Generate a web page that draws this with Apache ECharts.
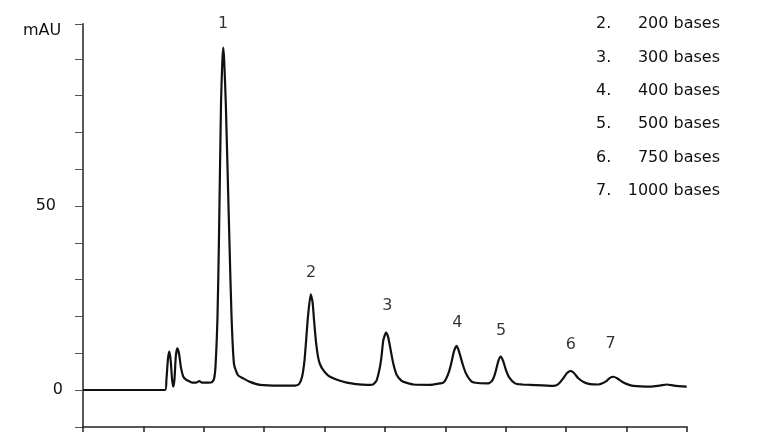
<!DOCTYPE html>
<html>
<head>
<meta charset="utf-8">
<script src="https://cdn.jsdelivr.net/npm/echarts@6/dist/echarts.min.js"></script>
<style>
html,body{margin:0;padding:0;background:#fff;}
#chart{width:768px;height:432px;}
</style>
</head>
<body>
<div id="chart"></div>
<script>
// Retention time (min) and absorbance (mAU)
const timeMin = [0,1.358,1.382,1.407,1.429,1.452,1.474,1.495,1.515,1.536,1.561,1.589,1.623,1.661,1.705,1.743,1.805,1.871,1.925,1.970,2.036,2.131,2.169,2.194,2.227,2.252,2.285,2.306,2.323,2.339,2.364,2.401,2.425,2.459,2.500,2.566,2.649,2.765,2.930,3.262,3.510,3.576,3.626,3.667,3.692,3.725,3.770,3.800,3.825,3.858,3.891,3.924,3.978,4.056,4.144,4.255,4.366,4.520,4.697,4.801,4.863,4.917,4.945,4.972,5.017,5.050,5.083,5.137,5.194,5.276,5.348,5.469,5.745,5.911,5.965,6.010,6.060,6.093,6.142,6.187,6.225,6.286,6.341,6.435,6.540,6.710,6.772,6.813,6.838,6.879,6.916,6.954,7.003,7.053,7.152,7.268,7.401,7.786,7.864,7.952,8.013,8.075,8.129,8.200,8.295,8.394,8.531,8.609,8.670,8.725,8.780,8.841,8.919,9.007,9.111,9.388,9.553,9.664,9.785,9.995];
const absorb = [0,0,3,8.5,10.4,8,3,0.9,3,9,11.3,10,6,3.6,2.8,2.5,2.0,2.0,2.4,2.0,2.0,2.1,3,6.5,20,42,78,89,93,89,78,55,40,20,7,4,3.2,2.2,1.4,1.2,1.2,1.6,3.5,8,13,20,26,24,19,13,9,7,5.4,4,3.2,2.5,2.0,1.6,1.4,1.5,2.7,6.3,9.5,13.5,15.6,14.5,11.8,7.2,4.1,2.5,2.0,1.5,1.4,1.8,2.0,3,5,7,10.5,12,10.5,7,4.5,2.3,1.9,1.8,2.5,4,5.4,8,9.1,8,5.4,3.5,1.8,1.5,1.4,1.1,1.5,3.2,4.6,5.2,4.6,3.2,2.1,1.6,1.5,1.9,2.5,3.3,3.6,3.2,2.3,1.6,1.1,0.9,1.2,1.5,1.2,0.9];

// Peak annotations
const peakLabels = ['1','2','3','4','5','6','7'];
const peakLabelTime = [2.318,3.775,5.038,6.197,6.921,8.075,8.737];
const peakLabelValue = [99.5,31.9,22.8,18.3,16.0,12.2,12.5];

// Key text (line 1 is cut off in the reference)
const keyNums = ['2.','3.','4.','5.','6.','7.'];
const keyTexts = ['200 bases','300 bases','400 bases','500 bases','750 bases','1000 bases'];

const yLabeled = [0, 50];
const yUnit = 'mAU';

const FONT = 'DejaVu Sans';
const chart = echarts.init(document.getElementById('chart'));

const graphics = [{
  type:'text', x:42, y:31,
  style:{text:yUnit, font:'16px "'+FONT+'"', fill:'#111', align:'center', verticalAlign:'middle'}
}];
keyNums.forEach((n,i)=>{
  const y = 24 + i*33.4;
  graphics.push({type:'text', x:596, y:y, style:{text:n, font:'16px "'+FONT+'"', fill:'#111', align:'left', verticalAlign:'middle'}});
  graphics.push({type:'text', x:720, y:y, style:{text:keyTexts[i], font:'16px "'+FONT+'"', fill:'#111', align:'right', verticalAlign:'middle'}});
});

chart.setOption({
  animation:false,
  backgroundColor:'#fff',
  grid:{left:83, right:81, top:23.8, bottom:5.2, containLabel:false, outerBoundsMode:'none'},
  xAxis:{
    type:'value', min:0, max:10, interval:1,
    axisLine:{show:true, onZero:false, lineStyle:{color:'#222', width:1.5}},
    axisTick:{show:true, inside:false, length:6, lineStyle:{color:'#222', width:1.5}},
    axisLabel:{show:false},
    splitLine:{show:false}
  },
  yAxis:{
    type:'value', min:-10, max:99.5, interval:10,
    axisLine:{show:true, lineStyle:{color:'#222', width:1.5}},
    axisTick:{show:true, inside:false, length:8, lineStyle:{color:'#555', width:1}},
    axisLabel:{
      show:true, margin:20, color:'#111', fontFamily:FONT, fontSize:16,
      formatter:function(v){
        if (v===yLabeled[1]) return '{p|'+v+'}';
        if (v===yLabeled[0]) return String(v);
        return '';
      },
      rich:{p:{fontFamily:FONT, fontSize:16, color:'#111', padding:[0,7,0,0]}}
    },
    splitLine:{show:false}
  },
  series:[{
    type:'line',
    data: timeMin.map((t,i)=>[t, absorb[i]]),
    showSymbol:false,
    smooth:0.2,
    lineStyle:{color:'#111', width:2.2, join:'round'},
    z:3
  },{
    type:'scatter',
    data: peakLabelTime.map((t,i)=>[t, peakLabelValue[i]]),
    symbolSize:0,
    clip:false,
    label:{show:true, position:'inside', color:'#000', fontFamily:FONT, fontSize:16,
      formatter:function(p){return peakLabels[p.dataIndex];}},
    z:4
  }],
  graphic: graphics
});
</script>
</body>
</html>
